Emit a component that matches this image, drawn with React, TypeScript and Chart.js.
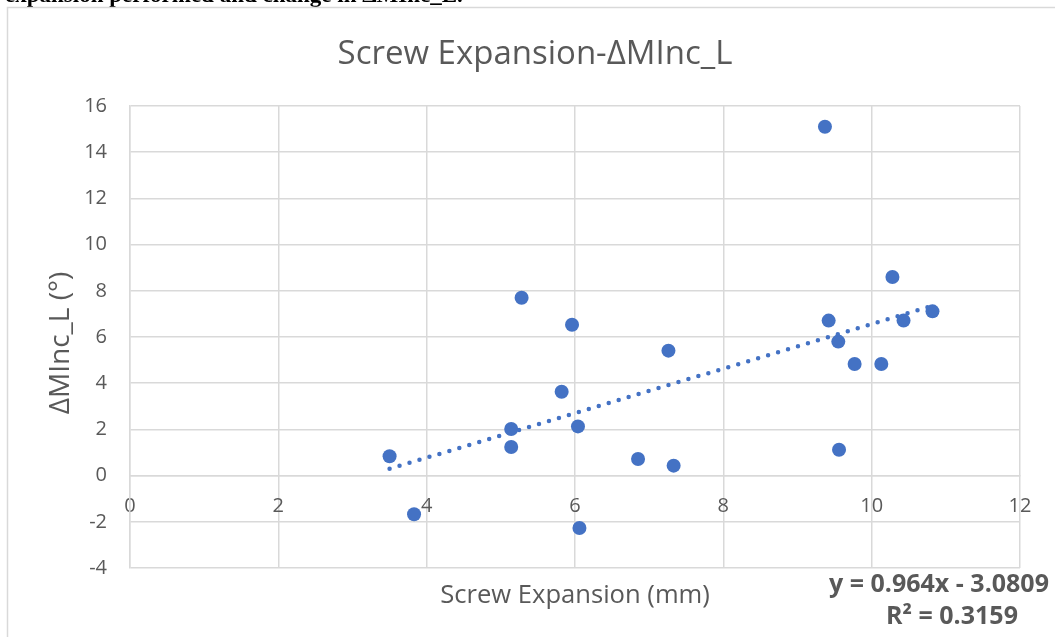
import React, { useEffect, useRef } from "react";
import { Chart, registerables } from "chart.js";

Chart.register(...registerables);

const chartTitle = "Screw Expansion-ΔMInc_L";
const xAxisTitle = "Screw Expansion (mm)";
const yAxisTitle = "ΔMInc_L (°)";
const docText = "expansion performed and change in ΔMInc_L.";
const equationLines = ["y = 0.964x - 3.0809", "R² = 0.3159"];

const screwExpansion = [3.50, 3.83, 5.14, 5.14, 5.28, 5.82, 5.96, 6.04, 6.06, 6.85, 7.26, 7.33, 9.37, 9.42, 9.55, 9.56, 9.77, 10.13, 10.28, 10.43, 10.82];
const deltaMInc = [0.84, -1.67, 2.02, 1.24, 7.70, 3.63, 6.53, 2.13, -2.27, 0.72, 5.41, 0.43, 15.10, 6.71, 5.80, 1.12, 4.83, 4.83, 8.60, 6.71, 7.11];

const trendSlope = 0.964;
const trendIntercept = -3.0809;

const xTicks = { min: 0, max: 12, step: 2 };
const yTicks = { min: -4, max: 16, step: 2 };

const FONT = '"Open Sans", sans-serif';
const GREY_TEXT = "#595959";
const GRID = "#d9d9d9";
const BLUE = "#4472C4";

export default function App() {
  const ref = useRef<HTMLCanvasElement | null>(null);

  useEffect(() => {
    const canvas = ref.current;
    if (!canvas) return;

    const points = screwExpansion.map((x, i) => ({ x, y: deltaMInc[i] }));
    const xMin = Math.min(...screwExpansion);
    const xMax = Math.max(...screwExpansion);
    const trend = [
      { x: xMin, y: trendSlope * xMin + trendIntercept },
      { x: xMax, y: trendSlope * xMax + trendIntercept },
    ];

    const overlay = {
      id: "overlay",
      beforeDraw(chart: any) {
        const ctx = chart.ctx;
        ctx.save();
        ctx.fillStyle = "#ffffff";
        ctx.fillRect(0, 0, chart.width, chart.height);
        // document text above the chart
        ctx.fillStyle = "#000000";
        ctx.font = 'bold 23px "Liberation Serif", serif';
        ctx.textAlign = "left";
        ctx.textBaseline = "alphabetic";
        ctx.fillText(docText, 5, 2);
        // frame
        ctx.strokeStyle = GRID;
        ctx.lineWidth = 1.5;
        ctx.strokeRect(7.5, 7.5, 2000, 2000);
        ctx.restore();
      },
      afterDraw(chart: any) {
        const ctx = chart.ctx;
        const area = chart.chartArea;
        ctx.save();
        ctx.fillStyle = GREY_TEXT;
        // title
        ctx.font = `33px ${FONT}`;
        ctx.textAlign = "center";
        ctx.textBaseline = "alphabetic";
        ctx.fillText(chartTitle, 535, 64);
        // x axis title
        ctx.font = `25.6px ${FONT}`;
        ctx.fillText(xAxisTitle, (area.left + area.right) / 2, 603);
        // y axis title
        ctx.save();
        ctx.translate(61, (area.top + area.bottom) / 2 + 6);
        ctx.rotate(-Math.PI / 2);
        ctx.textBaseline = "middle";
        ctx.font = `28px ${FONT}`;
        ctx.fillText(yAxisTitle, 0, 0);
        ctx.restore();
        // equation
        ctx.font = `bold 25px ${FONT}`;
        ctx.textAlign = "center";
        ctx.fillText(equationLines[0], 939, 592);
        ctx.fillText(equationLines[1], 952, 624);
        ctx.restore();
      },
    };

    const chart = new Chart(canvas, {
      type: "scatter",
      data: {
        datasets: [
          {
            type: "line",
            label: "Trend",
            data: trend,
            borderColor: BLUE,
            borderWidth: 4.5,
            borderDash: [0, 10.4],
            borderCapStyle: "round",
            pointRadius: 0,
            fill: false,
            order: 0,
          } as any,
          {
            label: "ΔMInc_L",
            data: points,
            backgroundColor: BLUE,
            borderColor: BLUE,
            borderWidth: 0,
            pointRadius: 7,
            pointHoverRadius: 7,
            order: 1,
          },
        ],
      },
      options: {
        animation: false,
        responsive: false,
        devicePixelRatio: 1,
        events: [],
        layout: { padding: { left: 0, top: 106, right: 35, bottom: 69 } },
        plugins: {
          legend: { display: false },
          title: { display: false },
          tooltip: { enabled: false },
        },
        scales: {
          x: {
            type: "linear",
            position: { y: 0 } as any,
            min: xTicks.min,
            max: xTicks.max,
            ticks: {
              stepSize: xTicks.step,
              padding: 19,
              color: GREY_TEXT,
              font: { family: FONT, size: 20 },
            },
            grid: { color: GRID, lineWidth: 1.5, drawTicks: false },
            border: { color: GRID, width: 1.5 },
          },
          y: {
            type: "linear",
            position: "left",
            min: yTicks.min,
            max: yTicks.max,
            afterFit: (scale: any) => {
              scale.width = 130;
            },
            ticks: {
              stepSize: yTicks.step,
              padding: 23,
              color: GREY_TEXT,
              font: { family: FONT, size: 20 },
            },
            grid: { color: GRID, lineWidth: 1.5, drawTicks: false },
            border: { color: GRID, width: 1.5 },
          },
        },
      },
      plugins: [overlay],
    });

    return () => chart.destroy();
  }, []);

  return (
    <canvas
      ref={ref}
      width={1055}
      height={637}
      style={{ position: "fixed", left: 0, top: 0, display: "block" }}
    />
  );
}
